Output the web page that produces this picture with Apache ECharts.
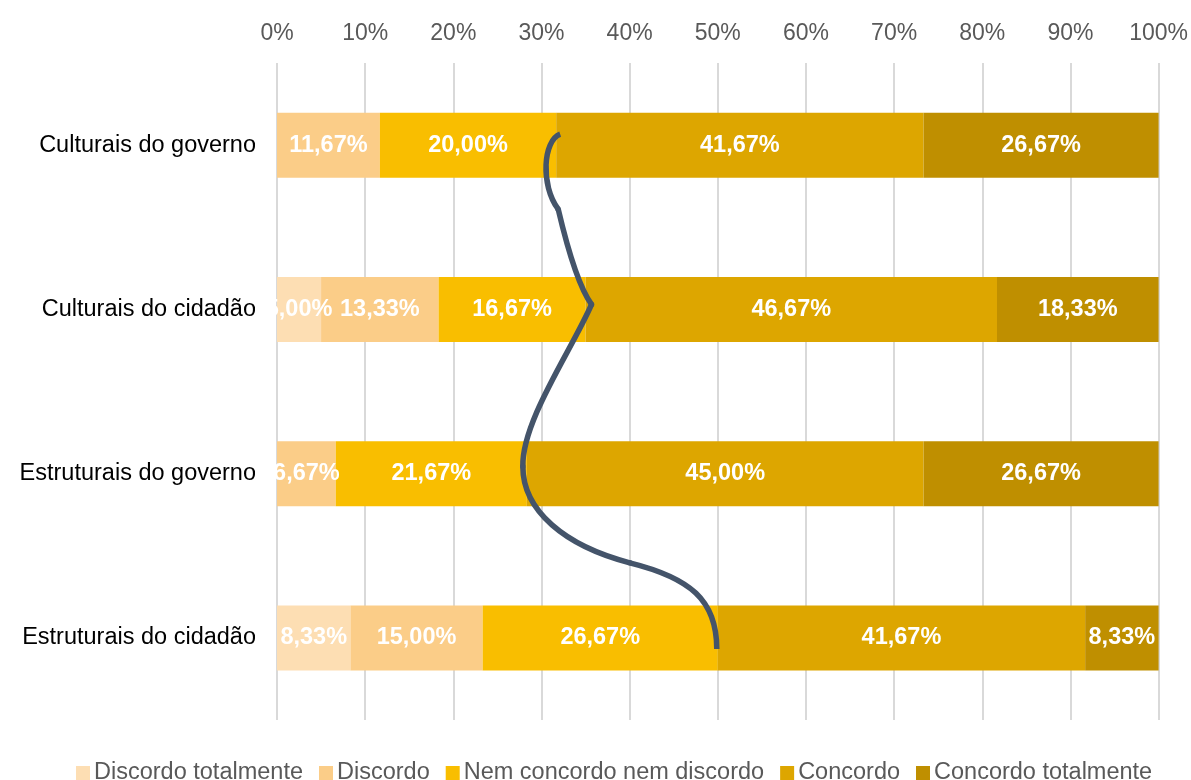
<!DOCTYPE html>
<html>
<head>
<meta charset="utf-8">
<script src="https://cdn.jsdelivr.net/npm/echarts@6/dist/echarts.min.js"></script>
<style>
html,body{margin:0;padding:0;background:#fff;}
#chart{width:1191px;height:780px;}
</style>
</head>
<body>
<div id="chart"></div>
<script>
const categories = ['Culturais do governo', 'Culturais do cidadão', 'Estruturais do governo', 'Estruturais do cidadão'];
const seriesNames = ['Discordo totalmente', 'Discordo', 'Nem concordo nem discordo', 'Concordo', 'Concordo totalmente'];
const discordoTotalmente = [0, 5.00, 0, 8.33];
const discordo = [11.67, 13.33, 6.67, 15.00];
const nemNem = [20.00, 16.67, 21.67, 26.67];
const concordo = [41.67, 46.67, 45.00, 41.67];
const concordoTotalmente = [26.67, 18.33, 26.67, 8.33];
const xTicks = [0, 10, 20, 30, 40, 50, 60, 70, 80, 90, 100];

const colors = ['#FDDEB3', '#FBCD88', '#F9BE00', '#DDA600', '#BF8F00'];
const values = [discordoTotalmente, discordo, nemNem, concordo, concordoTotalmente];
const FONT = 'Liberation Sans, Arial, sans-serif';

// cumulative disagree + neutral share of each row (anchors of the hand-drawn curve)
const curveValues = categories.map((c, i) => discordoTotalmente[i] + discordo[i] + nemNem[i]);

const fmt = v => v.toFixed(2).replace('.', ',') + '%';

const barSeries = seriesNames.map((name, k) => ({
  name: name,
  type: 'bar',
  stack: 'total',
  barWidth: 65,
  itemStyle: { color: colors[k] },
  label: {
    show: true,
    position: 'inside',
    color: '#fff',
    fontWeight: 'bold',
    fontSize: 23.5,
    fontFamily: FONT,
    formatter: p => p.value > 0 ? fmt(p.value) : ''
  },
  emphasis: { disabled: true },
  data: values[k]
}));

const chart = echarts.init(document.getElementById('chart'), null, { renderer: 'canvas' });
chart.setOption({
  animation: false,
  backgroundColor: '#fff',
  grid: { left: 277, right: 32, top: 63, bottom: 60, containLabel: false },
  legend: {
    top: 756,
    left: 71,
    itemWidth: 14,
    itemHeight: 14,
    itemGap: 16,
    icon: 'rect',
    data: seriesNames,
    textStyle: { fontSize: 23.5, color: '#595959', fontFamily: FONT, padding: [0, 0, 0, -1] }
  },
  xAxis: {
    type: 'value',
    position: 'top',
    min: 0,
    max: 100,
    interval: 10,
    axisLine: { show: false },
    axisTick: { show: false },
    axisLabel: {
      fontSize: 23,
      color: '#595959',
      margin: 18,
      fontFamily: FONT,
      formatter: v => xTicks.includes(v) ? v + '%' : ''
    },
    splitLine: { show: true, lineStyle: { color: '#D9D9D9', width: 2 } }
  },
  yAxis: {
    type: 'category',
    inverse: true,
    data: categories,
    axisLine: { show: false },
    axisTick: { show: false },
    axisLabel: {
      fontSize: 23.5,
      color: '#000',
      margin: 21,
      fontFamily: FONT
    }
  },
  series: barSeries
});

// hand-drawn style connector through the cumulative points, anchored on the chart's scales
const A = categories.map((c, i) => chart.convertToPixel({ gridIndex: 0 }, [curveValues[i], c]));
const h = A[1][1] - A[0][1];
const P = (a, dx, dyf) => [A[a][0] + dx, A[a][1] + dyf * h];
const segs = [
  [P(0, 4, -0.067), P(0, -13, -0.03), P(0, -16, 0.244), P(0, 2, 0.39)],
  [P(0, 2, 0.39), P(1, -20, -0.42), P(1, -8, -0.146), P(1, 6, -0.03)],
  [P(1, 6, -0.03), P(1, -14, 0.25), P(2, -5, -0.32), P(2, -4, -0.043)],
  [P(2, -4, -0.043), P(2, -4, 0.226), P(2, 38, 0.44), P(3, -88, -0.457)],
  [P(3, -88, -0.457), P(3, -28, -0.366), P(3, -1, -0.232), P(3, -1, 0.067)]
];
const lineStyle = { fill: null, stroke: '#44546A', lineWidth: 5.5, lineCap: 'butt' };
const curveEls = segs.map(s => ({
  type: 'bezierCurve',
  z: 101,
  silent: true,
  shape: { x1: s[0][0], y1: s[0][1], cpx1: s[1][0], cpy1: s[1][1], cpx2: s[2][0], cpy2: s[2][1], x2: s[3][0], y2: s[3][1] },
  style: lineStyle
}));
// small round joints between segments
const joints = segs.slice(1).map(s => ({
  type: 'circle', z: 101, silent: true,
  shape: { cx: s[0][0], cy: s[0][1], r: 2.75 },
  style: { fill: '#44546A' }
}));

const leftEdge = chart.convertToPixel({ xAxisIndex: 0 }, 0);
chart.setOption({
  graphic: [
    {
      type: 'rect',
      z: 100,
      silent: true,
      shape: { x: leftEdge - 22, y: 63, width: 21, height: 657 },
      style: { fill: '#fff' }
    }
  ].concat(curveEls, joints)
});
</script>
</body>
</html>
